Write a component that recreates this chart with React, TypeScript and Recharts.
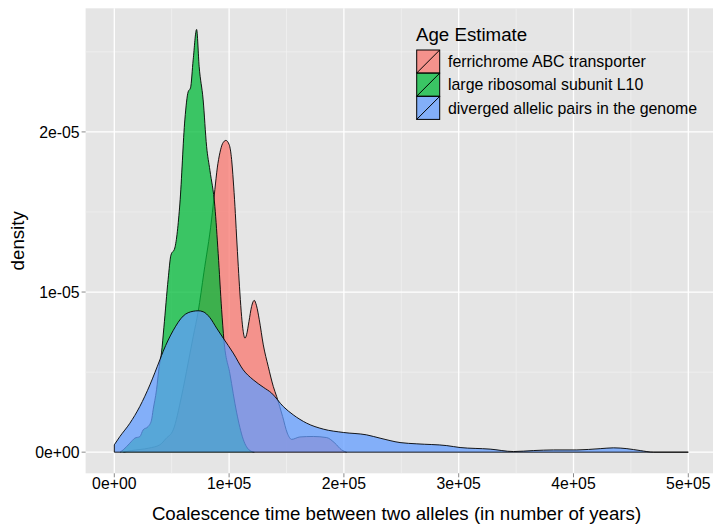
import React from 'react';
import { ComposedChart, Area, XAxis, YAxis, CartesianGrid, ReferenceLine, Legend, Label } from 'recharts';

const UNIT = 1e-6;

// ferrichrome ABC transporter
const ferriX = [8000, 15000, 30000, 39700, 45000, 51300, 58600, 64300, 68700, 73100, 78000, 84700, 87600, 89700, 92000, 94300, 97200, 100100, 102200, 103600, 105100, 106500, 108000, 109400, 110900, 112300, 113800, 115200, 117300, 119600, 121900, 123900, 126300, 129800, 134100, 138500, 141400, 146600, 150700, 154500, 161700, 173300, 185000, 192200, 198000, 202400];
const ferriY = [0, 0.1, 0.25, 0.46, 0.85, 1.39, 3.5, 5.56, 7.2, 8.8, 11.2, 14.5, 16.4, 17.75, 18.7, 19.27, 19.47, 19.2, 18.27, 17.0, 15.35, 13.5, 11.6, 9.94, 8.48, 7.54, 7.12, 7.33, 8.16, 9.1, 9.48, 9.14, 8.27, 6.7, 5.35, 4.1, 3.48, 2.23, 1.19, 0.8, 0.95, 0.98, 0.91, 0.56, 0.14, 0];

// large ribosomal subunit L10
const riboX = [5000, 7700, 13500, 17900, 22200, 25100, 29500, 32400, 33800, 36800, 39100, 41100, 43200, 46900, 49300, 52700, 57100, 61500, 64300, 66400, 68700, 71700, 73900, 77400, 80400, 83300, 87600, 90500, 93500, 95500, 100700, 106500, 112300, 118100, 122000];
const riboY = [0, 0.14, 0.56, 0.875, 0.97, 1.39, 1.6, 2.0, 2.64, 3.9, 5.35, 6.2, 7.8, 10.8, 12.3, 12.75, 15.5, 20.8, 22.5, 22.75, 24.5, 26.4, 24.1, 22.0, 19.1, 17.6, 15.35, 12.4, 8.9, 7.0, 4.9, 2.5, 0.8, 0.1, 0];

// diverged allelic pairs in the genome
const pairsX = [0, 4800, 13500, 22200, 31000, 39700, 42600, 51300, 60000, 68700, 73100, 77400, 83300, 89100, 94900, 103600, 112300, 121000, 129700, 137000, 147200, 155900, 167600, 182000, 199500, 219800, 231500, 248900, 263500, 289600, 301200, 327400, 347700, 365100, 382600, 402900, 423300, 434900, 446500, 458100, 469700, 500000];
const pairsY = [0.46, 0.97, 1.8, 2.85, 4.2, 5.77, 6.3, 7.6, 8.5, 8.8, 8.83, 8.77, 8.4, 7.75, 7.12, 6.19, 5.14, 4.52, 4.06, 3.69, 2.85, 2.33, 1.81, 1.44, 1.23, 1.08, 0.875, 0.6, 0.52, 0.41, 0.29, 0.19, 0.04, 0.1, 0.14, 0.14, 0.22, 0.27, 0.22, 0.1, 0.0, 0];

const seriesNames = ['ferrichrome ABC transporter', 'large ribosomal subunit L10', 'diverged allelic pairs in the genome'];
const seriesColors = ['#F8766D', '#00BA38', '#619CFF'];
const seriesX = [ferriX, riboX, pairsX];
const seriesY = [ferriY, riboY, pairsY];

const xTicks = [0, 100000, 200000, 300000, 400000, 500000];
const xMinor = [50000, 150000, 250000, 350000, 450000];
const yTicks = [0, 1e-5, 2e-5];
const yMinor = [5e-6, 1.5e-5, 2.5e-5];

const FONT = '"Liberation Sans", Arial, Helvetica, sans-serif';
const ALPHA = 0.75;

const sci = (v: number) => {
  if (v === 0) return '0e+00';
  const e = Math.floor(Math.log10(Math.abs(v)) + 1e-9);
  const m = Math.round(v / Math.pow(10, e));
  const sign = e < 0 ? '-' : '+';
  const ae = Math.abs(e);
  return `${m}e${sign}${ae < 10 ? '0' + ae : ae}`;
};

const tables = seriesX.map((xs, i) => xs.map((x, j) => ({ x, y: seriesY[i][j] * UNIT })));

const LegendBox = () => {
  const left = 408;
  const top = 14;
  const keyX = 416.7 - left;
  const keySize = 23;
  return (
    <svg width={305} height={112} style={{ display: 'block', overflow: 'visible' }}>
      <text x={416 - left} y={40.5 - top} fontFamily={FONT} fontSize={18.7} fill="#000">Age Estimate</text>
      {seriesNames.map((name, i) => {
        const ky = 50 - top + i * 23.2;
        return (
          <g key={name}>
            <rect x={keyX} y={ky} width={keySize} height={keySize} fill={seriesColors[i]} fillOpacity={ALPHA} stroke="#000" strokeWidth={1} />
            <line x1={keyX} y1={ky + keySize} x2={keyX + keySize} y2={ky} stroke="#000" strokeWidth={1} />
            <text x={448 - left} y={ky + keySize / 2 + 5.7} fontFamily={FONT} fontSize={15.9} fill="#000">{name}</text>
          </g>
        );
      })}
    </svg>
  );
};

export default function App() {
  const first = pairsX[0];
  const last = pairsX[pairsX.length - 1];
  return (
    <div style={{ position: 'fixed', left: 0, top: 0, width: 713, height: 529, overflow: 'hidden', background: '#fff' }}>
      <ComposedChart width={720} height={529} margin={{ top: 8.3, right: 3, bottom: 0, left: 0 }}>
        <CartesianGrid fill="#E5E5E5" stroke="#F2F2F2" strokeWidth={0.7} horizontalValues={yMinor} verticalValues={xMinor} />
        <CartesianGrid stroke="#FFFFFF" strokeWidth={1.3} horizontalValues={yTicks} verticalValues={xTicks} />
        <XAxis
          type="number"
          dataKey="x"
          domain={[-25000, 525000]}
          ticks={xTicks}
          tickFormatter={sci}
          allowDataOverflow
          height={55.7}
          axisLine={false}
          tickLine={{ stroke: '#8a8a8a' }}
          tickSize={4}
          tickMargin={0}
          tick={{ fill: '#000', fontSize: 15.8, fontFamily: FONT }}
          interval={0}
        >
          <Label
            content={(props: any) => {
              const vb = props.viewBox || { x: 85.6, y: 473.3, width: 631.4 };
              return (
                <text x={vb.x + vb.width / 2 - 4.8} y={vb.y + 46.7} textAnchor="middle" fontFamily={FONT} fontSize={18.7} fill="#000">
                  Coalescence time between two alleles (in number of years)
                </text>
              );
            }}
          />
        </XAxis>
        <YAxis
          type="number"
          domain={[-1.32e-6, 27.72e-6]}
          ticks={yTicks}
          tickFormatter={sci}
          allowDataOverflow
          width={85.6}
          axisLine={false}
          tickLine={{ stroke: '#8a8a8a' }}
          tickSize={4}
          tickMargin={2}
          tick={{ fill: '#000', fontSize: 15.8, fontFamily: FONT }}
          interval={0}
        >
          <Label
            content={(props: any) => {
              const vb = props.viewBox || { x: 0, y: 8.3, height: 465 };
              const cy = vb.y + vb.height / 2;
              return (
                <text x={24} y={cy} transform={`rotate(-90, 24, ${cy})`} textAnchor="middle" fontFamily={FONT} fontSize={18.7} fill="#000">
                  density
                </text>
              );
            }}
          />
        </YAxis>
        {tables.map((rows, i) => (
          <Area
            key={seriesNames[i]}
            name={seriesNames[i]}
            data={rows}
            dataKey="y"
            type="monotone"
            baseValue={0}
            fill={seriesColors[i]}
            fillOpacity={ALPHA}
            stroke="#000"
            strokeWidth={0.9}
            dot={false}
            activeDot={false}
            isAnimationActive={false}
          />
        ))}
        <ReferenceLine segment={[{ x: first, y: 0 }, { x: last, y: 0 }]} stroke="#000" strokeWidth={0.9} />
        <ReferenceLine segment={[{ x: first, y: 0 }, { x: first, y: pairsY[0] * UNIT }]} stroke="#000" strokeWidth={0.9} />
        <Legend
          layout="vertical"
          align="center"
          verticalAlign="middle"
          content={() => <LegendBox />}
          wrapperStyle={{ position: 'absolute', left: 408, top: 14, width: 305, height: 112 }}
        />
      </ComposedChart>
    </div>
  );
}
